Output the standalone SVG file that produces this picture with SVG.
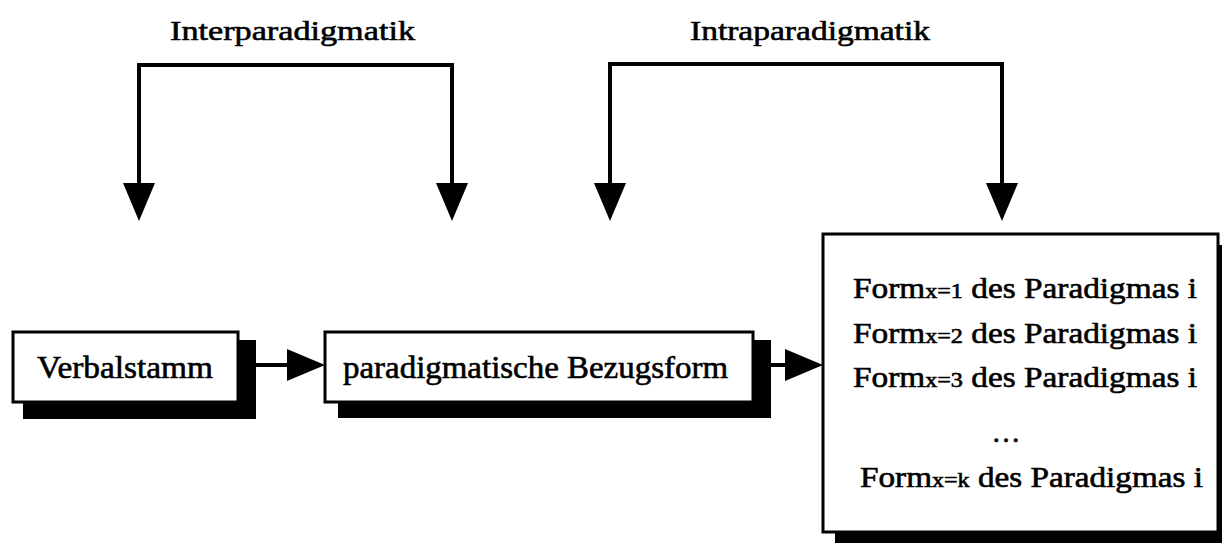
<svg xmlns="http://www.w3.org/2000/svg" width="1222" height="543" viewBox="0 0 1222 543">
  <style>
    .lbl { font-family: "Liberation Serif", "Times New Roman", serif; font-size: 29px; fill: #000; stroke: #000; stroke-width: 0.6; }
    .big { font-size: 31px; }
    .top { font-size: 28px; }
    .sub { font-size: 21px; }
    .box { fill: #fff; stroke: #000; stroke-width: 3; }
    .shadow { fill: #000; }
    .conn { fill: none; stroke: #000; stroke-width: 4; stroke-linejoin: miter; }
  </style>
  <defs>
    <marker id="head" viewBox="0 0 38 32" refX="32" refY="16" markerWidth="38" markerHeight="32" markerUnits="userSpaceOnUse" orient="auto-start-reverse">
      <path d="M0,0 L38,16 L0,32 Z" fill="#000"/>
    </marker>
  </defs>
  <rect width="1222" height="543" fill="#fff"/>

  <!-- connectors -->
  <g id="connectors">
    <path id="inter" class="conn" d="M139,215 V65 H452 V215" marker-start="url(#head)" marker-end="url(#head)"/>
    <path id="intra" class="conn" d="M610,215 V64 H1002 V215" marker-start="url(#head)" marker-end="url(#head)"/>
    <path id="stamm-bezug" class="conn" d="M256,365 H319" marker-end="url(#head)"/>
    <path id="bezug-formen" class="conn" d="M771,365 H817" marker-end="url(#head)"/>
  </g>

  <!-- bracket labels -->
  <g id="label-inter">
    <text class="lbl top" x="170" y="40" textLength="245" lengthAdjust="spacingAndGlyphs">Interparadigmatik</text>
  </g>
  <g id="label-intra">
    <text class="lbl top" x="690" y="40" textLength="240" lengthAdjust="spacingAndGlyphs">Intraparadigmatik</text>
  </g>

  <!-- nodes -->
  <g id="verbalstamm">
    <rect class="shadow" x="23" y="340" width="233" height="79"/>
    <rect class="box" x="13" y="332" width="225" height="70"/>
    <text class="lbl big" x="37" y="378" textLength="176" lengthAdjust="spacingAndGlyphs">Verbalstamm</text>
  </g>

  <g id="bezugsform">
    <rect class="shadow" x="338" y="340" width="433" height="78"/>
    <rect class="box" x="325" y="332" width="428" height="70"/>
    <text class="lbl big" x="343" y="378" textLength="385" lengthAdjust="spacingAndGlyphs">paradigmatische Bezugsform</text>
  </g>

  <g id="formen">
    <rect class="shadow" x="835" y="245" width="400" height="310"/>
    <rect class="box" x="823" y="234" width="395" height="298"/>
    <text class="lbl" x="853" y="298" textLength="344" lengthAdjust="spacingAndGlyphs">Form<tspan class="sub">x=1</tspan> des Paradigmas i</text>
    <text class="lbl" x="853" y="343" textLength="344" lengthAdjust="spacingAndGlyphs">Form<tspan class="sub">x=2</tspan> des Paradigmas i</text>
    <text class="lbl" x="853" y="387" textLength="344" lengthAdjust="spacingAndGlyphs">Form<tspan class="sub">x=3</tspan> des Paradigmas i</text>
    <text class="lbl" x="1006" y="442" text-anchor="middle">…</text>
    <text class="lbl" x="860" y="487" textLength="343" lengthAdjust="spacingAndGlyphs">Form<tspan class="sub">x=k</tspan> des Paradigmas i</text>
  </g>
</svg>
